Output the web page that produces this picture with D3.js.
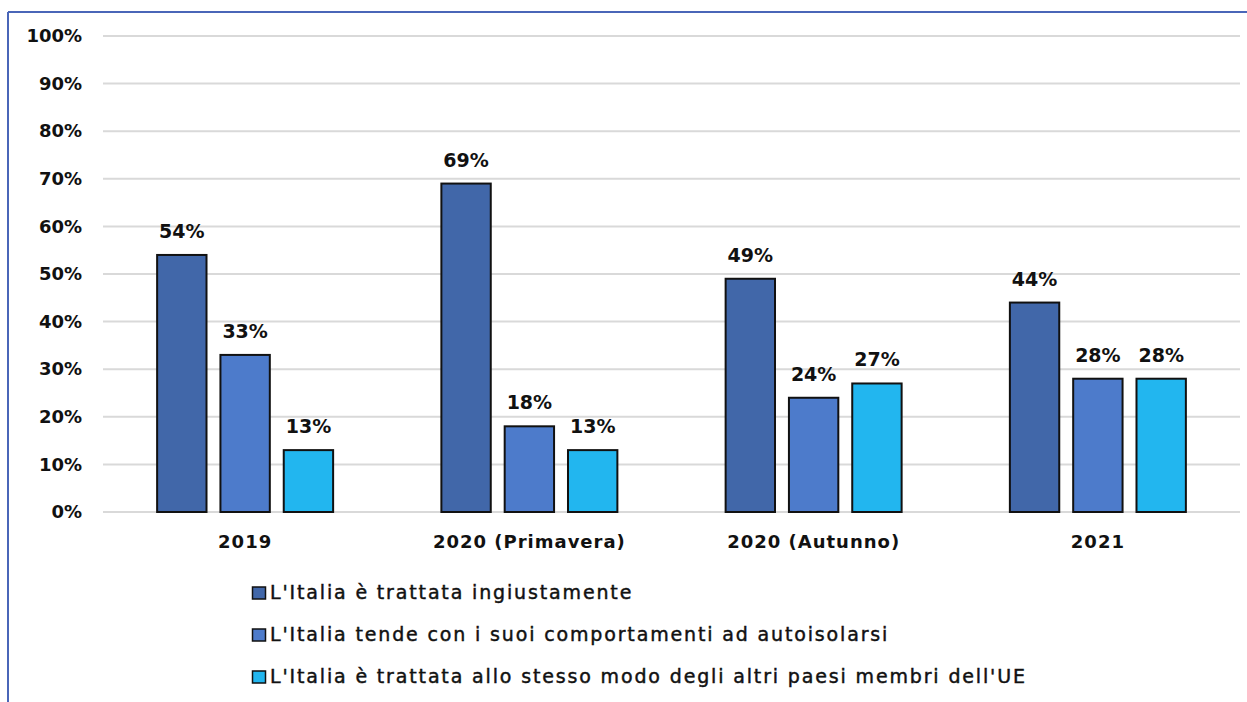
<!DOCTYPE html>
<html>
<head>
<meta charset="utf-8">
<script src="https://cdn.jsdelivr.net/npm/d3@7"></script>
<style>
  html, body { margin: 0; padding: 0; background: #fff; }
  svg { display: block; }
  text { font-family: "DejaVu Sans", sans-serif; fill: #111; }
</style>
</head>
<body>
<svg id="chart" width="1247" height="702"></svg>
<script>
// Survey waves and share of answers per option
const categories = ["2019", "2020 (Primavera)", "2020 (Autunno)", "2021"];
const seriesNames = [
  "L'Italia è trattata ingiustamente",
  "L'Italia tende con i suoi comportamenti ad autoisolarsi",
  "L'Italia è trattata allo stesso modo degli altri paesi membri dell'UE"
];
const ingiustamente = [54, 69, 49, 44];
const autoisolarsi = [33, 18, 24, 28];
const stessoModo = [13, 13, 27, 28];
const seriesColors = ["#4167A9", "#4D7BCB", "#22B6EF"];
const yTicks = [0, 10, 20, 30, 40, 50, 60, 70, 80, 90, 100];

const seriesValues = [ingiustamente, autoisolarsi, stessoModo];

const svg = d3.select("#chart");

// outer frame (top and left rules)
svg.append("line").attr("x1", 8).attr("x2", 1247).attr("y1", 12).attr("y2", 12)
  .attr("stroke", "#4A66B8").attr("stroke-width", 2);
svg.append("line").attr("x1", 8).attr("x2", 8).attr("y1", 12).attr("y2", 702)
  .attr("stroke", "#4A66B8").attr("stroke-width", 2);

const plotLeft = 103, plotRight = 1240, plotTop = 36, plotBottom = 512;

const x = d3.scaleBand().domain(categories).range([plotLeft, plotRight]);
const y = d3.scaleLinear().domain([0, 100]).range([plotBottom, plotTop]);
const inner = d3.scaleBand().domain(d3.range(seriesNames.length))
  .range([-88, 88]).paddingInner(0.22);

// gridlines
svg.append("g").selectAll("line").data(yTicks).join("line")
  .attr("x1", plotLeft).attr("x2", plotRight)
  .attr("y1", d => y(d)).attr("y2", d => y(d))
  .attr("stroke", "#d9d9d9").attr("stroke-width", 2);

// y axis labels
const yAxis = svg.append("g").attr("transform", `translate(${plotLeft - 21},0)`)
  .call(d3.axisLeft(y).tickValues(yTicks).tickFormat(d => d + "%").tickSize(0).tickPadding(0));
yAxis.select(".domain").remove();
yAxis.selectAll("text").attr("font-size", 18).attr("font-weight", 700)
  .style("font-family", "'DejaVu Sans', sans-serif").attr("fill", "#111");

// x axis labels
const xAxis = svg.append("g").attr("transform", `translate(0,${plotBottom})`)
  .call(d3.axisBottom(x).tickSize(0).tickPadding(0));
xAxis.select(".domain").remove();
xAxis.selectAll("text").attr("y", 36).attr("dy", null)
  .attr("font-size", 18).attr("font-weight", 700)
  .style("font-family", "'DejaVu Sans', sans-serif")
  .style("letter-spacing", "1px").attr("fill", "#111");

// bars and value labels
const flat = [];
categories.forEach((c, i) => seriesValues.forEach((vals, s) => flat.push({ c, s, v: vals[i] })));

const bars = svg.append("g");
bars.selectAll("rect").data(flat).join("rect")
  .attr("x", d => x(d.c) + x.bandwidth() / 2 + inner(d.s))
  .attr("width", inner.bandwidth())
  .attr("y", d => y(d.v))
  .attr("height", d => y(0) - y(d.v))
  .attr("fill", d => seriesColors[d.s])
  .attr("stroke", "#111").attr("stroke-width", 2);

bars.selectAll("text").data(flat).join("text")
  .attr("x", d => x(d.c) + x.bandwidth() / 2 + inner(d.s) + inner.bandwidth() / 2)
  .attr("y", d => y(d.v) - 17)
  .attr("text-anchor", "middle")
  .attr("font-size", 19).attr("font-weight", 700)
  .text(d => d.v + "%");

// legend
const legend = svg.append("g").attr("transform", "translate(252,0)");
const legendBase = [599, 641, 683];
const item = legend.selectAll("g").data(seriesNames).join("g")
  .attr("transform", (d, i) => `translate(0,${legendBase[i]})`);
item.append("rect").attr("x", 0.5).attr("y", -12).attr("width", 13).attr("height", 12)
  .attr("fill", (d, i) => seriesColors[i]).attr("stroke", "#111").attr("stroke-width", 1.5);
item.append("text").attr("x", 18).attr("y", 0)
  .attr("font-size", 19)
  .attr("stroke", "#111").attr("stroke-width", 0.45)
  .style("letter-spacing", "1.85px")
  .text(d => d);
</script>
</body>
</html>
